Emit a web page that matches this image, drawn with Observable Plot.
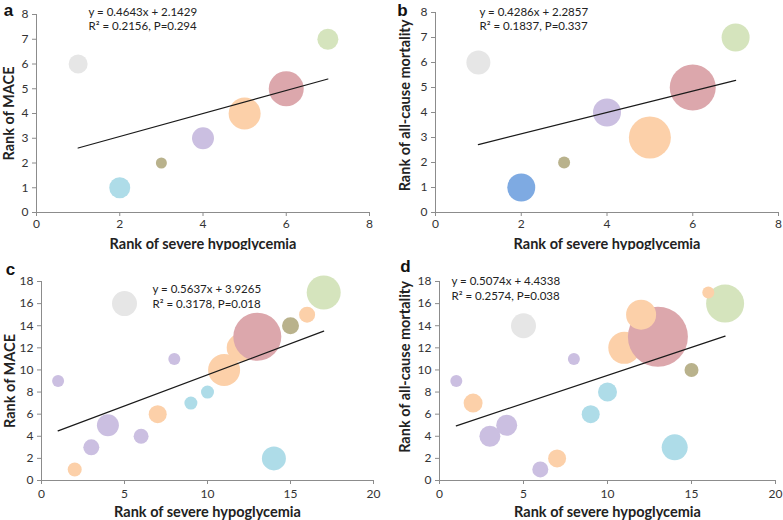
<!DOCTYPE html>
<html><head><meta charset="utf-8">
<script src="https://cdn.jsdelivr.net/npm/d3@7"></script>
<script src="https://cdn.jsdelivr.net/npm/@observablehq/plot@0.6"></script>
<style>
body{margin:0;background:#fff;}
#wrap{position:relative;width:783px;height:520px;font-family:Lato,sans-serif;}
.p{position:absolute;}
</style></head><body><div id="wrap"></div>
<script>
// ---- data ----
const hypoRank7 = [1, 2, 3, 4, 5, 6, 7];
const maceRank7 = [6, 1, 2, 3, 4, 5, 7];
const maceGroup7 = ["G1", "G2", "G4", "G5", "G6", "G7", "G8"];
const maceBubble7 = [9.5, 10.5, 5.5, 11, 16, 17.5, 10.5];

const mortRank7 = [6, 1, 2, 4, 3, 5, 7];
const mortGroup7 = ["G1", "G3", "G4", "G5", "G6", "G7", "G8"];
const mortBubble7 = [12, 14, 6, 14, 21, 23, 14];

const hypoRank17 = [1, 2, 3, 4, 5, 6, 7, 8, 9, 10, 11, 12, 13, 14, 15, 16, 17];
const group17 = ["G5", "G6", "G5", "G5", "G1", "G5", "G6", "G5", "G2", "G2", "G6", "G6", "G7", "G2", "G4", "G6", "G8"];
const maceRank17 = [9, 1, 3, 5, 16, 4, 6, 11, 7, 8, 10, 12, 13, 2, 14, 15, 17];
const maceBubble17 = [6, 7, 8, 11, 12.5, 7.5, 9, 6, 6.5, 6.5, 16, 14, 24, 12, 8.5, 8, 17];
const mortRank17 = [9, 7, 4, 5, 14, 1, 2, 11, 6, 8, 12, 15, 13, 3, 10, 17, 16];
const mortBubble17 = [6, 9.5, 10.5, 10.5, 12.5, 8, 9, 6, 9, 9.5, 16, 15, 30, 13, 7, 6, 19];

const groups = ["G1", "G2", "G3", "G4", "G5", "G6", "G7", "G8"];
const groupColors = ["#e6e6e6", "#aedce8", "#7eaae2", "#b9b28c", "#cbbfe1", "#fcd0a9", "#dca7ac", "#d5e4bd"];

const ticks8 = [0, 2, 4, 6, 8];
const ticksY8 = [0, 1, 2, 3, 4, 5, 6, 7, 8];
const ticks20 = [0, 5, 10, 15, 20];
const ticksY18 = [0, 2, 4, 6, 8, 10, 12, 14, 16, 18];

const eqA = ["y = 0.4643x + 2.1429", "R² = 0.2156, P=0.294"];
const eqB = ["y = 0.4286x + 2.2857", "R² = 0.1837, P=0.337"];
const eqC = ["y = 0.5637x + 3.9265", "R² = 0.3178, P=0.018"];
const eqD = ["y = 0.5074x + 4.4338", "R² = 0.2574, P=0.038"];

const xTitle = "Rank of severe hypoglycemia";
const yTitleMace = "Rank of MACE";
const yTitleMort = "Rank of all-cause mortality";

function rows(xs, ys, gs, rs) {
  return xs.map((x, i) => ({x, y: ys[i], g: gs[i], r: rs[i]}));
}

function panel(cfg) {
  const data = rows(cfg.xs, cfg.ys, cfg.gs, cfg.rs);
  const axisColor = "#8c8c8c";
  const chart = Plot.plot({
    width: cfg.width, height: cfg.height,
    marginLeft: cfg.m[0], marginRight: cfg.m[1], marginTop: cfg.m[2], marginBottom: cfg.m[3],
    style: {fontFamily: "Lato, sans-serif", background: "white", overflow: "visible"},
    x: {domain: cfg.xDomain, axis: null},
    y: {domain: cfg.yDomain, axis: null},
    r: {type: "linear", domain: [0, 30], range: [0, 30]},
    color: {type: "ordinal", domain: groups, range: groupColors},
    marks: [
      Plot.dot(data, {x: "x", y: "y", r: "r", fill: "g", sort: d => d.y}),
      Plot.linearRegressionY(data, {x: "x", y: "y", stroke: "#1a1a1a", strokeWidth: 1.2, ci: 0}),
      Plot.ruleY([cfg.yDomain[0]], {stroke: axisColor}),
      Plot.ruleX([cfg.xDomain[0]], {stroke: axisColor}),
      Plot.axisX({ticks: cfg.xTicks, tickSize: 4, tickPadding: cfg.xPad, fontSize: 12, stroke: axisColor, color: "#333", label: null}),
      Plot.axisY({ticks: cfg.yTicks, tickSize: 4, tickPadding: 4, fontSize: 12, stroke: axisColor, color: "#333", label: null}),
      Plot.text([cfg.eq.join("\n")], {text: d => d, frameAnchor: "top-left", textAnchor: "start", lineAnchor: "middle", dx: cfg.eqPos[0], dy: cfg.eqPos[1], fontSize: 11.5, lineHeight: 1.25, fill: "#222"}),
      Plot.text([xTitle], {text: d => d, frameAnchor: "bottom", textAnchor: "middle", dy: cfg.xtDy, lineAnchor: "middle", fontSize: 14.5, fontWeight: "bold", fill: "#222"}),
      Plot.text([cfg.yTitle], {text: d => d, frameAnchor: "left", textAnchor: "middle", rotate: -90, dx: cfg.ytDx, dy: cfg.ytDy || 0, lineAnchor: "middle", fontSize: 14.5, fontWeight: "bold", fill: "#222"}),
      Plot.text([cfg.letter], {text: d => d, frameAnchor: "top-left", textAnchor: "middle", dx: cfg.letterPos[0], dy: cfg.letterPos[1], lineAnchor: "middle", fontSize: 17, fontWeight: "bold", fontFamily: "Liberation Sans, Arial, sans-serif", fill: "#111"})
    ]
  });
  const div = document.createElement("div");
  div.className = "p";
  div.style.left = cfg.left + "px";
  div.style.top = cfg.top + "px";
  div.appendChild(chart);
  document.getElementById("wrap").appendChild(div);
}

panel({left: 0, top: 0, width: 390, height: 250, m: [36, 21, 14, 38],
  xs: hypoRank7, ys: maceRank7, gs: maceGroup7, rs: maceBubble7,
  xDomain: [0, 8], yDomain: [0, 8], xTicks: ticks8, yTicks: ticksY8, xPad: 3,
  eq: eqA, eqPos: [52, 4], xtDy: 32, yTitle: yTitleMace, ytDx: -27, letter: "a", letterPos: [-28, -4]});

panel({left: 390, top: 0, width: 393, height: 250, m: [45, 5, 12, 38],
  xs: hypoRank7, ys: mortRank7, gs: mortGroup7, rs: mortBubble7,
  xDomain: [0, 8], yDomain: [0, 8], xTicks: ticks8, yTicks: ticksY8, xPad: 3,
  eq: eqB, eqPos: [44, 6], xtDy: 32, yTitle: yTitleMort, ytDx: -30, ytDy: -7, letter: "b", letterPos: [-33, -2]});

panel({left: 0, top: 250, width: 390, height: 270, m: [41, 17, 31, 40],
  xs: hypoRank17, ys: maceRank17, gs: group17, rs: maceBubble17,
  xDomain: [0, 20], yDomain: [0, 18], xTicks: ticks20, yTicks: ticksY18, xPad: 5,
  eq: eqC, eqPos: [111, 14.5], xtDy: 32, yTitle: yTitleMace, ytDx: -31, letter: "c", letterPos: [-31, -12]});

panel({left: 390, top: 250, width: 393, height: 270, m: [49, 8, 31, 40],
  xs: hypoRank17, ys: mortRank17, gs: group17, rs: mortBubble17,
  xDomain: [0, 20], yDomain: [0, 18], xTicks: ticks20, yTicks: ticksY18, xPad: 5,
  eq: eqD, eqPos: [12, 6.5], xtDy: 32, yTitle: yTitleMort, ytDx: -34, ytDy: -14, letter: "d", letterPos: [-34, -15]});
</script>
</body></html>
